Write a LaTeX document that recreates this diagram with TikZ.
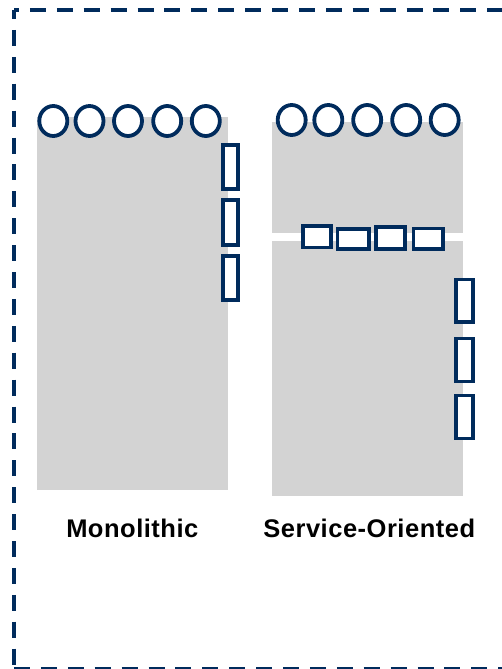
\documentclass[tikz,border=0pt]{standalone}
\usepackage{fontspec}
\setmainfont{Liberation Sans}
\newfontfamily\capfont[LetterSpace=2]{Liberation Sans}
\usetikzlibrary{shapes.geometric}
\definecolor{navy}{RGB}{0,43,92}
\definecolor{panelgray}{RGB}{211,211,211}
\tikzset{
  panel/.style={rectangle, fill=panelgray, draw=none, inner sep=0pt},
  port/.style={ellipse, draw=navy, fill=white, line width=3.8pt, inner sep=0pt, minimum width=28pt, minimum height=30pt},
  iface/.style={rectangle, draw=navy, fill=white, line width=3.6pt, inner sep=0pt},
  border/.style={draw=navy, line width=4pt, dash pattern=on 16pt off 10.9pt},
  caption/.style={font=\capfont\bfseries\fontsize{25.5}{30}\selectfont, inner sep=0pt, anchor=base}
}
\begin{document}
\begin{tikzpicture}[x=1pt, y=-1pt]
\useasboundingbox (0,0) rectangle (502,669);
\clip (0,0) rectangle (502,669);
% outer dashed frame
\coordinate (tl) at (14,10);
\coordinate (bl) at (14,669);
\coordinate (tr) at (520,10);
\coordinate (br) at (520,669);
\draw[border, dash phase=7pt] (tl) -- (bl);
\draw[border, dash phase=11pt] (tl) -- (tr);
\draw[border, dash phase=0pt] (bl) -- (br);
% panels
\node[panel, minimum width=191.3pt, minimum height=372.7pt] (mono) at (132.35,303.65) {};
\node[panel, minimum width=191pt, minimum height=111.6pt] (soatop) at (367.2,177.5) {};
\node[panel, minimum width=191pt, minimum height=254.4pt] (soabot) at (367.2,368.5) {};
% monolithic ports
\node[port] (m1) at (53.3,121) {};
\node[port] (m2) at (89.5,121) {};
\node[port] (m3) at (128,121) {};
\node[port] (m4) at (167.2,121) {};
\node[port] (m5) at (205.8,121) {};
% monolithic interfaces
\node[iface, minimum width=15.5pt, minimum height=44.5pt] (mi1) at (230.5,167) {};
\node[iface, minimum width=15.5pt, minimum height=44.5pt] (mi2) at (230.5,222.5) {};
\node[iface, minimum width=15.5pt, minimum height=44.5pt] (mi3) at (230.5,278) {};
% service-oriented ports
\node[port] (s1) at (291.7,120) {};
\node[port] (s2) at (328.3,120) {};
\node[port] (s3) at (367.2,120) {};
\node[port] (s4) at (406.2,120) {};
\node[port] (s5) at (444.7,120) {};
% service-oriented horizontal interfaces
\node[iface, minimum width=28.5pt, minimum height=21.5pt] (h1) at (317,236.8) {};
\node[iface, minimum width=31.5pt, minimum height=20pt] (h2) at (353.2,239.2) {};
\node[iface, minimum width=29.2pt, minimum height=22pt] (h3) at (390.3,237.8) {};
\node[iface, minimum width=29.8pt, minimum height=20.5pt] (h4) at (428.3,238.7) {};
% service-oriented vertical interfaces
\node[iface, minimum width=17pt, minimum height=42.7pt] (v1) at (464.7,300.7) {};
\node[iface, minimum width=17pt, minimum height=42.7pt] (v2) at (464.7,360) {};
\node[iface, minimum width=17pt, minimum height=42.7pt] (v3) at (464.7,417) {};
% captions
\node[caption] (lmono) at (132.3,537.7) {Monolithic};
\node[caption] (lsoa) at (369.3,537.7) {Service-Oriented};
\end{tikzpicture}
\end{document}
